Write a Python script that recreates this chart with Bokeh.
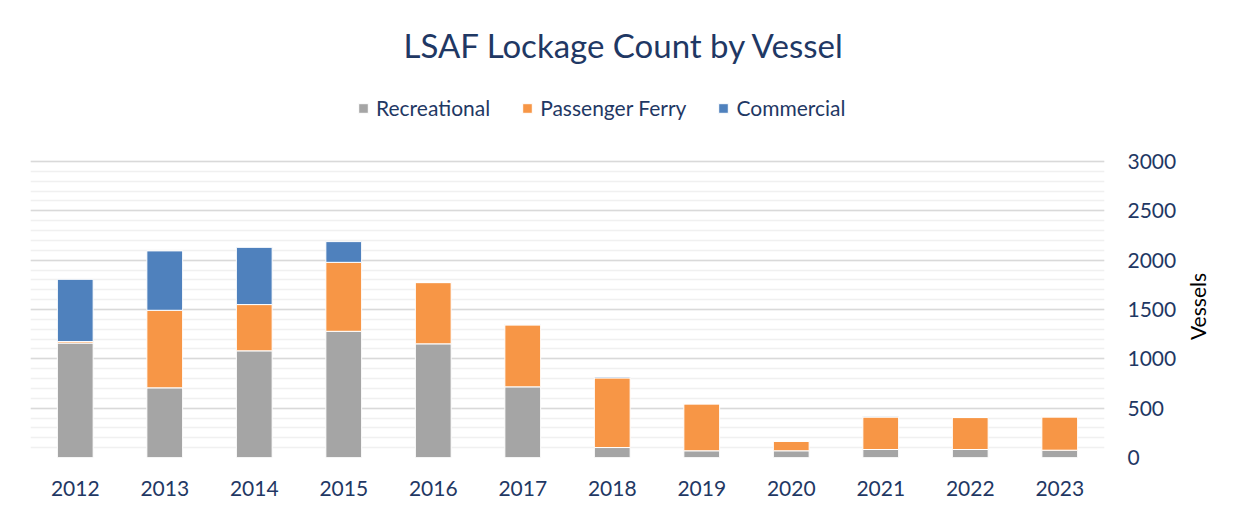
import math
from bokeh.plotting import figure
from bokeh.layouts import row
from bokeh.models import (ColumnDataSource, Legend, LegendItem, SingleIntervalTicker,
                          Range1d, FactorRange, Label)
from bokeh.embed import file_html
from bokeh.resources import INLINE

years = ["2012", "2013", "2014", "2015", "2016", "2017", "2018", "2019", "2020", "2021", "2022", "2023"]
recreational = [1160, 706, 1081, 1279, 1152, 716, 101, 68, 68, 81, 81, 74]
passenger_ferry = [15, 786, 469, 699, 621, 628, 706, 476, 97, 329, 324, 338]
commercial = [631, 602, 580, 210, 0, 5, 10, 0, 0, 8, 0, 0]
series = ["Recreational", "Passenger Ferry", "Commercial"]
colors = ["#A5A5A5", "#F79646", "#4F81BD"]

NAVY = "#1F3864"
FONT = "Lato"

# layout (pixels)
W_TOTAL, H = 1241, 510
SIDE_W = 59                    # narrow panel that carries the rotated axis title
W = W_TOTAL - SIDE_W
LEFT, BOTTOM = 30, 53
FRAME_W = 1074
RIGHT = W - LEFT - FRAME_W
AXIS_PX = 296                  # pixel height of the 0..3000 axis
AXIS_MAX = 3000
frame_h = H - BOTTOM
y_top = AXIS_MAX * frame_h / AXIS_PX   # headroom for title and legend inside the frame

src = ColumnDataSource(dict(years=years, Recreational=recreational,
                            **{"Passenger Ferry": passenger_ferry}, Commercial=commercial))

p = figure(x_range=FactorRange(*years, range_padding=0), y_range=Range1d(0, y_top),
           width=W, height=H, y_axis_location="right",
           output_backend="svg", toolbar_location=None,
           min_border_left=LEFT, min_border_top=0, min_border_bottom=BOTTOM, min_border_right=RIGHT)

renderers = p.vbar_stack(series, x="years", width=0.4, source=src, color=colors,
                         line_color="white", line_width=1)

title = Label(x=594, y=frame_h - 44, x_units="screen", y_units="screen",
              text="LSAF Lockage Count by Vessel", text_align="center", text_baseline="middle",
              text_font=FONT, text_font_size="33px", text_color=NAVY)
p.add_layout(title)

legend = Legend(items=[LegendItem(label=s, renderers=[r]) for s, r in zip(series, renderers)],
                orientation="horizontal", location=(327, frame_h - 120),
                label_text_font=FONT, label_text_font_size="21px", label_text_color=NAVY,
                glyph_width=12, glyph_height=12, spacing=31, label_standoff=7,
                border_line_color=None, background_fill_alpha=0, padding=6, margin=0)
p.add_layout(legend)

p.yaxis.bounds = (0, AXIS_MAX)
p.yaxis.ticker = SingleIntervalTicker(interval=500, num_minor_ticks=5)
p.yaxis.major_label_text_font = FONT
p.yaxis.major_label_text_font_size = "21px"
p.yaxis.major_label_text_color = NAVY
p.yaxis.major_label_standoff = 17
p.yaxis.axis_line_color = None
p.yaxis.major_tick_line_color = None
p.yaxis.minor_tick_line_color = None

p.xaxis.major_label_text_font = FONT
p.xaxis.major_label_text_font_size = "21px"
p.xaxis.major_label_text_color = NAVY
p.xaxis.major_label_standoff = 17
p.xaxis.axis_line_color = None
p.xaxis.major_tick_line_color = None
p.xaxis.minor_tick_line_color = None

p.xgrid.grid_line_color = None
p.ygrid.bounds = (0, AXIS_MAX)
p.ygrid.grid_line_color = "#D9D9D9"
p.ygrid.grid_line_width = 1.5
p.ygrid.minor_grid_line_color = "#F0F0F0"
p.ygrid.minor_grid_line_width = 1.5
p.outline_line_color = None

# side panel with the y-axis title, reading bottom-to-top like the reference
side = figure(width=SIDE_W, height=H, x_range=Range1d(0, 1), y_range=Range1d(0, 1),
              x_axis_location=None, y_axis_location=None, output_backend="svg",
              toolbar_location=None, min_border=0)
side.xgrid.visible = False
side.ygrid.visible = False
side.outline_line_color = None
axis_title = Label(x=15, y=151, x_units="screen", y_units="screen",
                   text="Vessels", angle=math.pi / 2, text_align="center", text_baseline="middle",
                   text_font=FONT, text_font_size="21px", text_color="black")
side.add_layout(axis_title)

layout = row(p, side, spacing=0)
open("out.html", "w").write(file_html(layout, INLINE))
